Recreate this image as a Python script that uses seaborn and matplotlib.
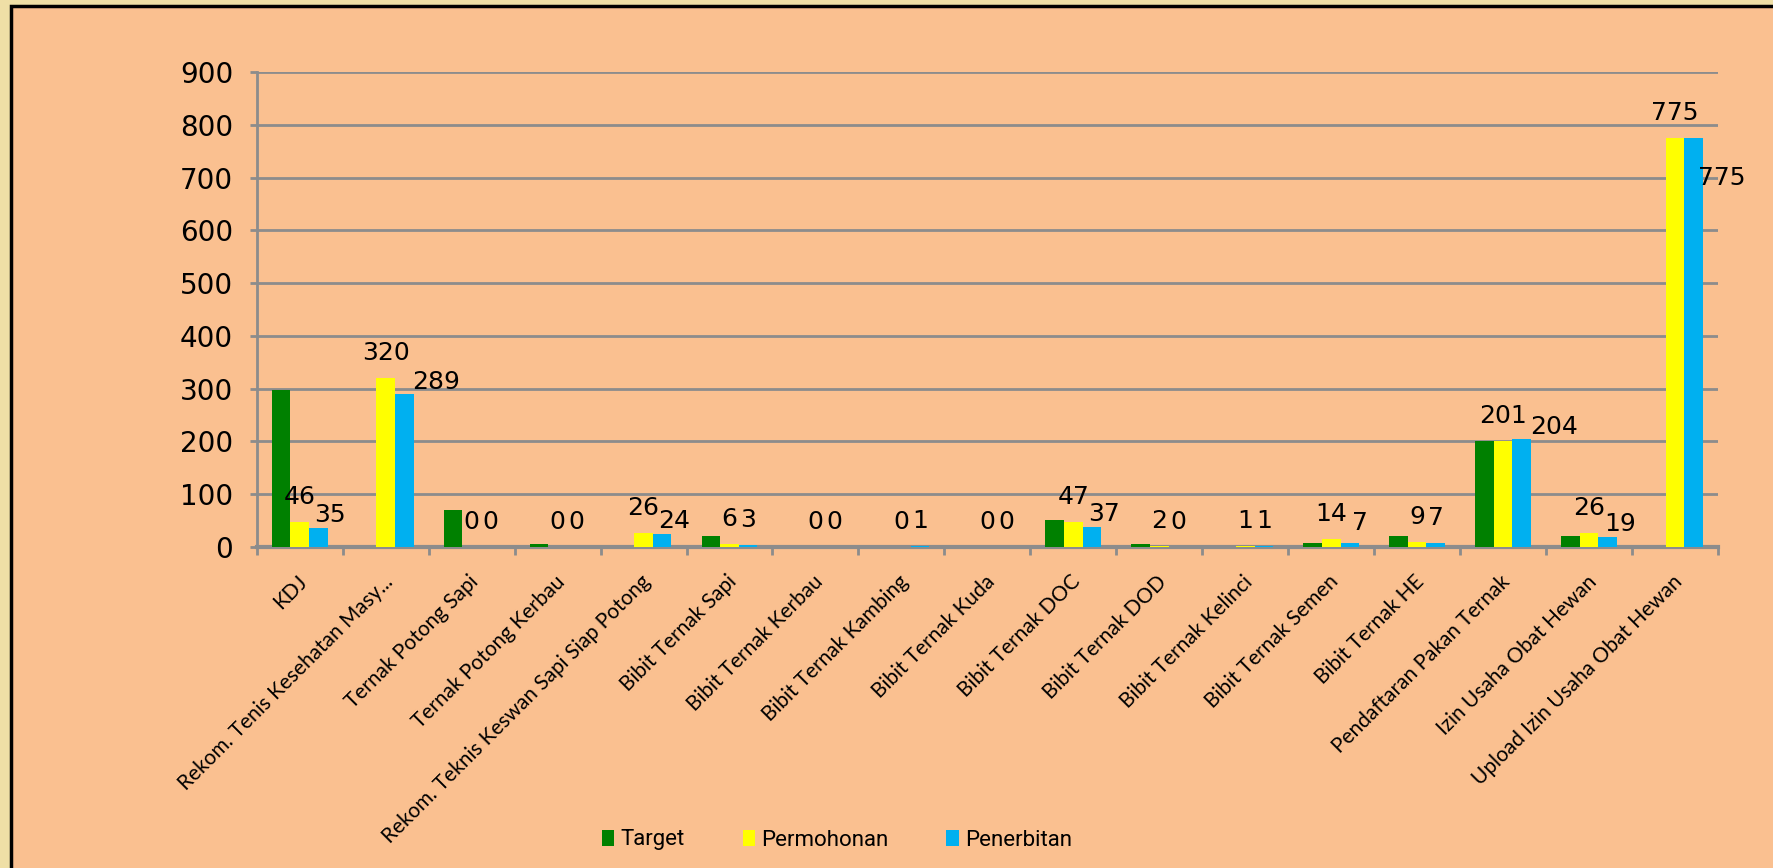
import matplotlib
matplotlib.use('Agg')
import matplotlib.pyplot as plt
import matplotlib.patches as mpatches
import matplotlib.transforms as mtransforms
import seaborn as sns
import pandas as pd

categories = ['KDJ', 'Rekom. Tenis Kesehatan Masy...', 'Ternak Potong Sapi', 'Ternak Potong Kerbau',
              'Rekom. Teknis Keswan Sapi Siap Potong', 'Bibit Ternak Sapi', 'Bibit Ternak Kerbau',
              'Bibit Ternak Kambing', 'Bibit Ternak Kuda', 'Bibit Ternak DOC', 'Bibit Ternak DOD',
              'Bibit Ternak Kelinci', 'Bibit Ternak Semen', 'Bibit Ternak HE', 'Pendaftaran Pakan Ternak',
              'Izin Usaha Obat Hewan', 'Upload Izin Usaha Obat Hewan']
target = [297, 0, 70, 5, 0, 20, 0, 0, 0, 50, 5, 0, 7, 20, 200, 20, 0]
permohonan = [46, 320, 0, 0, 26, 6, 0, 0, 0, 47, 2, 1, 14, 9, 201, 26, 775]
penerbitan = [35, 289, 0, 0, 24, 3, 0, 1, 0, 37, 0, 1, 7, 7, 204, 19, 775]
series = ['Target', 'Permohonan', 'Penerbitan']
colors = ['#008000', '#FFFF00', '#00B0F0']

df = pd.DataFrame({
    'cat': categories * 3,
    'series': [s for s in series for _ in categories],
    'value': target + permohonan + penerbitan,
})

panel = '#FAC090'
grid_gray = '#8C8C8C'

fig = plt.figure(figsize=(17.73, 8.68), dpi=100, facecolor='#EFDFA6')
# orange slide panel with black frame
fig.patches.append(mpatches.Rectangle((11 / 1773, -0.1), 1.2, 1.1 - 6 / 868, transform=fig.transFigure,
                                      facecolor=panel, edgecolor='black', linewidth=2.5, zorder=-5))

ax = fig.add_axes([0.1448, 0.3702, 0.969 - 0.1448, 0.9166 - 0.3702])
ax.patch.set_alpha(0)

sns.barplot(data=df, x='cat', y='value', hue='series', palette=colors, width=0.65,
            errorbar=None, ax=ax, saturation=1, linewidth=0, zorder=3)

ax.set_ylim(0, 900)
ax.set_yticks(range(0, 901, 100))
ax.set_xlim(-0.5, len(categories) - 0.5)
ax.yaxis.grid(True, color=grid_gray, linewidth=2, zorder=0)
ax.set_axisbelow(True)
for side in ['top', 'right']:
    ax.spines[side].set_visible(False)
ax.spines['left'].set_color(grid_gray)
ax.spines['left'].set_linewidth(2)
ax.spines['bottom'].set_color(grid_gray)
ax.spines['bottom'].set_linewidth(3)
ax.set_xlabel('')
ax.set_ylabel('')

ax.tick_params(axis='y', labelsize=20, length=5, width=2, color=grid_gray, pad=12)
ax.set_xticks(range(len(categories)))
ax.set_xticks([i - 0.5 for i in range(len(categories) + 1)], minor=True)
ax.tick_params(axis='x', which='major', length=0, pad=18)
ax.tick_params(axis='x', which='minor', length=6, width=2, color=grid_gray)
ax.set_xticklabels(categories, rotation=45, ha='right', va='top', rotation_mode='anchor',
                   fontsize=15, family=['Lato', 'DejaVu Sans'])
shift = mtransforms.ScaledTranslation(-0.03, 0, fig.dpi_scale_trans)
for lab in ax.get_xticklabels():
    lab.set_transform(lab.get_transform() + shift)
for lab in ax.get_yticklabels():
    lab.set_family('DejaVu Sans')

# value labels for Permohonan and Penerbitan (offsets in px)
n = len(categories)
bars = ax.patches
yel = bars[n:2 * n]
blu = bars[2 * n:3 * n]
for b, v in zip(yel, permohonan):
    ax.annotate(str(v), (b.get_x() + b.get_width() / 2, b.get_height()), xytext=(0, 18),
                textcoords='offset points', ha='center', va='center', fontsize=18, zorder=5)
for b, v, pv in zip(blu, penerbitan, permohonan):
    if v >= 700:
        dx, dy = 28, -40
    elif v >= 100:
        dx, dy = 32, 12
    elif v >= 10:
        dx, dy = 12, 13
    else:
        dx, dy = (10, 20) if pv >= 10 else (0, 25)
    ax.annotate(str(v), (b.get_x() + b.get_width() / 2, b.get_height()), xytext=(dx * 0.72, dy * 0.72),
                textcoords='offset points', ha='center', va='center', fontsize=18, zorder=5)

ax.legend_.remove()
handles = [mpatches.Patch(facecolor=c, edgecolor='none') for c in colors]
fig.legend(handles, series, loc='center', bbox_to_anchor=(837 / 1773, 1 - 840 / 868), ncol=3,
           frameon=False, handlelength=0.55, handleheight=0.7, handletextpad=0.3, columnspacing=2.6,
           prop={'family': ['Roboto', 'DejaVu Sans'], 'size': 16})

fig.savefig('out.png', dpi=100, facecolor=fig.get_facecolor())
